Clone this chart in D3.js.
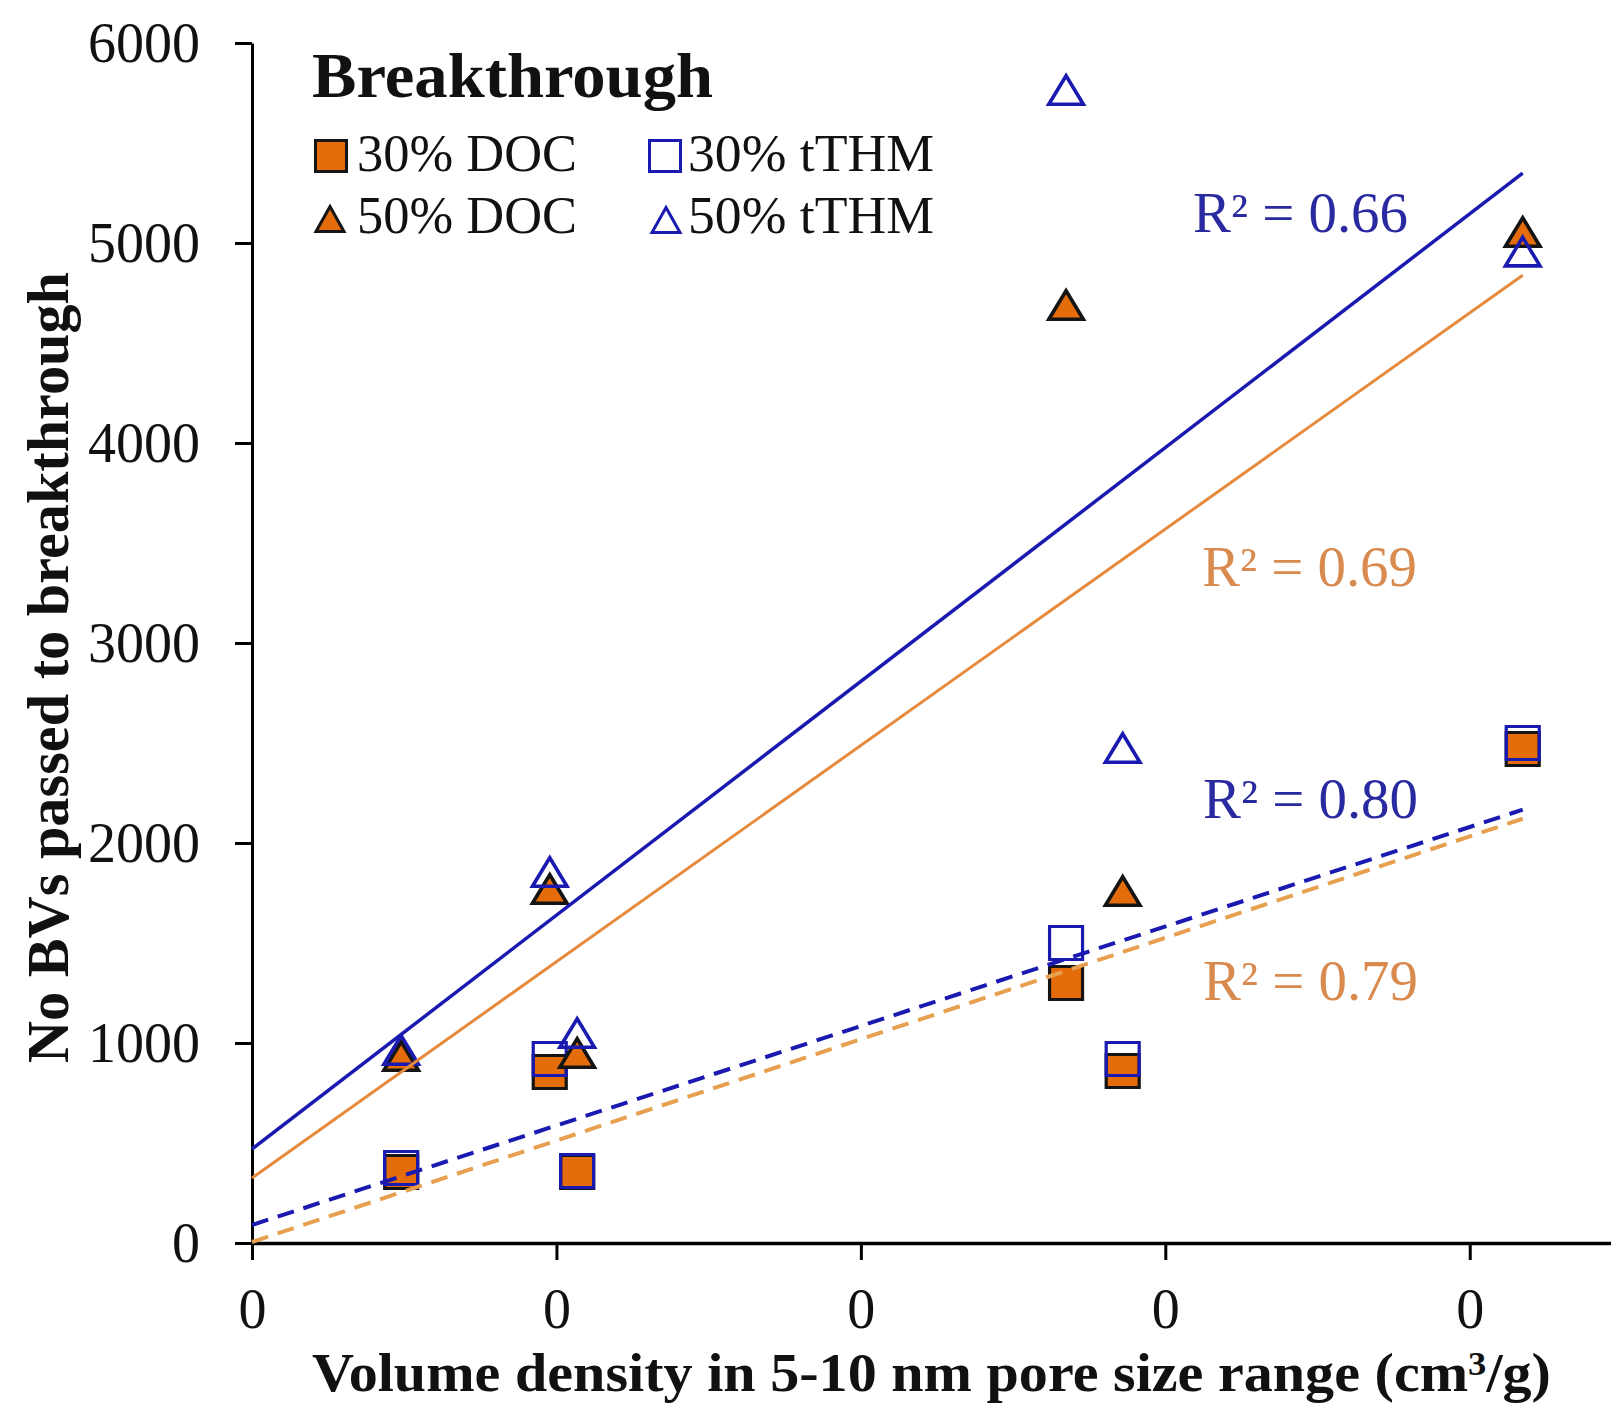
<!DOCTYPE html>
<html>
<head>
<meta charset="utf-8">
<script src="https://cdn.jsdelivr.net/npm/d3@7"></script>
<style>
  body { margin: 0; background: #fff; }
  svg { display: block; }
  text { font-family: "Liberation Serif", "Times New Roman", serif; }
</style>
</head>
<body>
<svg id="chart" width="1611" height="1409"></svg>
<script>
// Volume density in the 5-10 nm pore range for each carbon (cm3/g)
const poreVolume = [0.0245, 0.0489, 0.0534, 0.1337, 0.1430, 0.2087];

// Bed volumes passed before each breakthrough criterion
const doc30 = [355, 855, 355, 1300, 860, 2470];
const thm30 = [375, 920, 360, 1500, 920, 2500];
const doc50 = [935, 1770, 950, 4690, 1760, 5055];
const thm50 = [965, 1855, 1050, 5765, 2475, 4957];

// Linear trendlines (intercept, slope) and their R² values
const seriesNames = ["30% DOC", "30% tTHM", "50% DOC", "50% tTHM"];
const trendIntercept = [5, 90, 325, 470];
const trendSlope = [10140, 9950, 21630, 23380];
const r2Labels = ["R² = 0.79", "R² = 0.80", "R² = 0.69", "R² = 0.66"];

// Axis ticks
const xTicks = [0, 0.05, 0.10, 0.15, 0.20];
const yTicks = [0, 1000, 2000, 3000, 4000, 5000, 6000];

// ---- styling ----
const ORANGE = "#E46C0A";
const BLUE = "#1A1AB0";
const styles = [
  { shape: "square",   fill: ORANGE, stroke: "#141414", line: "#E6A050", dash: "17,10", lw: 4,   text: "#D98A4E" },
  { shape: "square",   fill: "none", stroke: BLUE,      line: BLUE,      dash: "17,10", lw: 4,   text: "#2A2AA0" },
  { shape: "triangle", fill: ORANGE, stroke: "#141414", line: "#E68A3E", dash: null,    lw: 3,   text: "#D98A4E" },
  { shape: "triangle", fill: "none", stroke: BLUE,      line: BLUE,      dash: null,    lw: 3.5, text: "#2A2AA0" }
];
const seriesValues = [doc30, thm30, doc50, thm50];
const r2Pos = [[1203, 1000], [1203, 818], [1202, 586], [1193, 232]];

const svg = d3.select("#chart");
const x = d3.scaleLinear().domain([0, 0.2232]).range([252, 1611]);
const y = d3.scaleLinear().domain([0, 6000]).range([1243, 43]);

function markerPath(shape, big) {
  if (shape === "square") {
    const s = big ? 33 : 31;
    return `M${-s/2},${-s/2}h${s}v${s}h${-s}Z`;
  }
  const w = big ? 34.5 : 28, h = big ? 28.5 : 25;
  return `M0,${-h/2}L${w/2},${h/2}L${-w/2},${h/2}Z`;
}

// ---- axes ----
const yAxis = d3.axisLeft(y).tickValues(yTicks).tickSize(17).tickSizeOuter(0)
  .tickPadding(0).tickFormat(d3.format("d"));
const gy = svg.append("g").attr("transform", `translate(${x(0)},0)`).call(yAxis);
gy.select(".domain").attr("stroke", "#000").attr("stroke-width", 3);
gy.selectAll(".tick line").attr("stroke", "#000").attr("stroke-width", 3);
gy.selectAll(".tick text")
  .attr("x", -52).attr("dy", "18px").attr("text-anchor", "end")
  .style("font-family", '"Liberation Serif", serif').style("font-size", "56px").attr("fill", "#111");

const xAxis = d3.axisBottom(x).tickValues(xTicks).tickSize(17).tickSizeOuter(0)
  .tickPadding(0).tickFormat(d3.format(".0f"));
const gx = svg.append("g").attr("transform", `translate(0,${y(0)})`).call(xAxis);
gx.select(".domain").attr("stroke", "#000").attr("stroke-width", 3.5);
gx.selectAll(".tick line").attr("stroke", "#000").attr("stroke-width", 3);
gx.selectAll(".tick text")
  .attr("y", 85).attr("dy", 0).attr("text-anchor", "middle")
  .style("font-family", '"Liberation Serif", serif').style("font-size", "56px").attr("fill", "#111");

// ---- data markers ----
seriesValues.forEach((vals, i) => {
  const st = styles[i];
  svg.append("g").selectAll("path")
    .data(vals.map((v, k) => [poreVolume[k], v]))
    .join("path")
    .attr("d", markerPath(st.shape, true))
    .attr("transform", d => `translate(${x(d[0])},${y(d[1])})`)
    .attr("fill", st.fill)
    .attr("stroke", st.stroke)
    .attr("stroke-width", st.shape === "square" ? 3.2 : 3.6)
    .attr("stroke-linejoin", "miter");
});

// ---- trendlines ----
const xEnd = d3.max(poreVolume);
const line = d3.line().x(d => x(d[0])).y(d => y(d[1]));
seriesValues.forEach((vals, i) => {
  const st = styles[i];
  const pts = [0, xEnd].map(v => [v, trendIntercept[i] + trendSlope[i] * v]);
  svg.append("path")
    .attr("d", line(pts))
    .attr("fill", "none")
    .attr("stroke", st.line)
    .attr("stroke-width", st.lw)
    .attr("stroke-dasharray", st.dash);
});

// ---- R² annotations ----
r2Labels.forEach((lab, i) => {
  svg.append("text")
    .attr("x", r2Pos[i][0]).attr("y", r2Pos[i][1])
    .attr("textLength", 215).attr("lengthAdjust", "spacingAndGlyphs")
    .attr("fill", styles[i].text)
    .style("font-size", "56px")
    .text(lab);
});

// ---- legend ----
const legend = svg.append("g");
legend.append("text")
  .attr("x", 312).attr("y", 97)
  .attr("textLength", 401).attr("lengthAdjust", "spacingAndGlyphs")
  .style("font-size", "64px").style("font-weight", "bold").attr("fill", "#111")
  .text("Breakthrough");

const legendSlots = [
  { mx: 331, my: 156, tx: 357, ty: 171, len: 220 },
  { mx: 665, my: 156, tx: 688, ty: 171, len: 246 },
  { mx: 330, my: 219, tx: 357, ty: 233, len: 220 },
  { mx: 666, my: 220, tx: 688, ty: 233, len: 246 }
];
seriesNames.forEach((name, i) => {
  const st = styles[i], sl = legendSlots[i];
  legend.append("path")
    .attr("d", markerPath(st.shape, false))
    .attr("transform", `translate(${sl.mx},${sl.my})`)
    .attr("fill", st.fill).attr("stroke", st.stroke).attr("stroke-width", 3);
  legend.append("text")
    .attr("x", sl.tx).attr("y", sl.ty)
    .attr("textLength", sl.len).attr("lengthAdjust", "spacingAndGlyphs")
    .style("font-size", "53px").attr("fill", "#111")
    .text(name);
});

// ---- axis titles ----
svg.append("text")
  .attr("transform", "translate(68,667.5) rotate(-90)")
  .attr("text-anchor", "middle")
  .attr("textLength", 791).attr("lengthAdjust", "spacingAndGlyphs")
  .style("font-size", "60px").style("font-weight", "bold").attr("fill", "#111")
  .text("No BVs passed to breakthrough");

const xt = svg.append("text")
  .attr("x", 312).attr("y", 1391)
  .attr("textLength", 1239).attr("lengthAdjust", "spacingAndGlyphs")
  .style("font-size", "54px").style("font-weight", "bold").attr("fill", "#111");
xt.append("tspan").text("Volume density in 5-10 nm pore size range (cm");
xt.append("tspan").attr("dy", -16).style("font-size", "34px").text("3");
xt.append("tspan").attr("dy", 16).text("/g)");
</script>
</body>
</html>
